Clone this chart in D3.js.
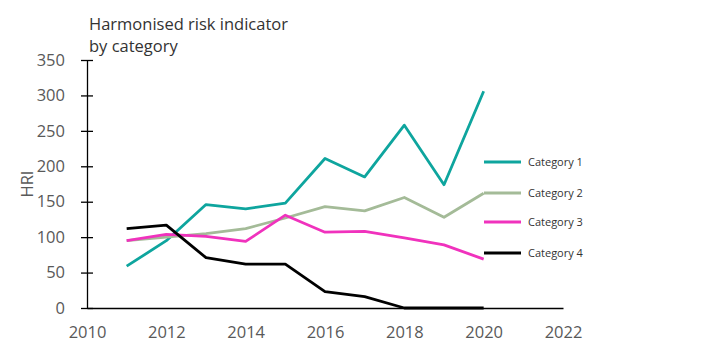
<!DOCTYPE html>
<html>
<head>
<meta charset="utf-8">
<script src="https://cdn.jsdelivr.net/npm/d3@7"></script>
<style>
  body { margin: 0; background: #fff; }
  svg { display: block; font-family: "Open Sans", sans-serif; }
</style>
</head>
<body>
<div id="chart"></div>
<script>
// Years and series values
const years = [2011, 2012, 2013, 2014, 2015, 2016, 2017, 2018, 2019, 2020];
const category1 = [59, 95, 146, 140, 148, 211, 185, 258, 174, 306];
const category2 = [95, 100, 105, 112, 127, 143, 137, 156, 128, 162];
const category3 = [95, 104, 101, 94, 131, 107, 108, 99, 89, 69];
const category4 = [112, 117, 71, 62, 62, 23, 16, 0, 0, 0];
const seriesNames = ['Category 1', 'Category 2', 'Category 3', 'Category 4'];
const seriesColors = ['#0ea59e', '#a4bb98', '#f032bd', '#000000'];
const yTicks = [0, 50, 100, 150, 200, 250, 300, 350];
const xTicks = [2010, 2012, 2014, 2016, 2018, 2020, 2022];

const width = 719;
const height = 349;
const margin = { top: 60, left: 87, bottom: 41, right: 156 };
const tickFont = '"Open Sans", sans-serif';

const svg = d3.select('#chart')
  .append('svg')
  .attr('width', width)
  .attr('height', height);

const x = d3.scaleLinear()
  .domain([2010, 2022])
  .range([margin.left, width - margin.right]);

const y = d3.scaleLinear()
  .domain([0, 350])
  .range([height - margin.bottom, margin.top]);

// Title
const title = svg.append('text')
  .attr('x', 89)
  .attr('y', 30)
  .attr('font-size', 16.5)
  .attr('fill', '#333');
title.append('tspan').attr('x', 89).text('Harmonised risk indicator');
title.append('tspan').attr('x', 89).attr('dy', 22).text('by category');

// Y axis: ticks crossing the line
const yAxis = svg.append('g')
  .attr('transform', `translate(${margin.left},0)`)
  .call(d3.axisLeft(y).tickValues(yTicks).tickSizeInner(5).tickSizeOuter(0).tickPadding(17));
yAxis.select('.domain').attr('stroke', '#000').attr('stroke-width', 1.3);
yAxis.selectAll('.tick line').attr('stroke', '#000').attr('stroke-width', 1.3).attr('x2', 6).attr('x1', -6);
yAxis.selectAll('.tick text')
  .attr('font-size', 16.5)
  .attr('fill', '#595959')
  .attr('font-family', tickFont);

// X axis: plain line, no ticks
const xAxis = svg.append('g')
  .attr('transform', `translate(0,${y(0)})`)
  .call(d3.axisBottom(x).tickValues(xTicks).tickFormat(d3.format('d')).tickSize(0).tickPadding(18));
xAxis.select('.domain').attr('stroke', '#000').attr('stroke-width', 1.3);
xAxis.selectAll('.tick text')
  .attr('font-size', 16.5)
  .attr('fill', '#595959')
  .attr('font-family', tickFont);

// Axis title
svg.append('text')
  .attr('transform', `translate(27,${y(175)}) rotate(-90)`)
  .attr('text-anchor', 'middle')
  .attr('dy', '0.35em')
  .attr('font-size', 16.5)
  .attr('fill', '#595959')
  .text('HRI');

// Series lines
const allSeries = [category1, category2, category3, category4];
const line = d3.line()
  .x((d, i) => x(years[i]))
  .y(d => y(d));

svg.append('g')
  .selectAll('path')
  .data(allSeries)
  .join('path')
  .attr('d', d => line(d))
  .attr('fill', 'none')
  .attr('stroke', (d, i) => seriesColors[i])
  .attr('stroke-width', 2.8)
  .attr('stroke-linejoin', 'round');

// Legend
const legendY = [162, 193, 222, 253];
const legend = svg.append('g')
  .selectAll('g')
  .data(seriesNames)
  .join('g')
  .attr('transform', (d, i) => `translate(484,${legendY[i]})`);

legend.append('line')
  .attr('x1', 0)
  .attr('x2', 37)
  .attr('stroke', (d, i) => seriesColors[i])
  .attr('stroke-width', 3.2);

legend.append('text')
  .attr('x', 44)
  .attr('dy', '0.35em')
  .attr('font-size', 11)
  .attr('fill', '#333')
  .text(d => d);
</script>
</body>
</html>
